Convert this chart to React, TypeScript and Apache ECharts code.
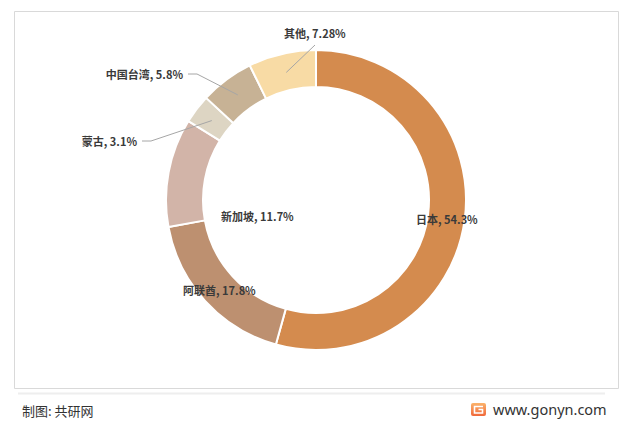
import React, { useEffect, useRef } from "react";
import * as echarts from "echarts";

const categories = ["日本", "阿联酋", "新加坡", "蒙古", "中国台湾", "其他"];
const values = [54.3, 17.8, 11.7, 3.1, 5.8, 7.28];

const sliceColors = ["#D48B4E", "#BD9070", "#D2B4A8", "#DDD5C3", "#C7B295", "#F8DBA5"];
// label anchor (x, y, align) per category; "outer" labels get a leader line
const labelPlace: { x: number; y: number; align: string; outer: boolean }[] = [
  { x: 416, y: 219, align: "left", outer: false },
  { x: 183, y: 290, align: "left", outer: false },
  { x: 221, y: 216, align: "left", outer: false },
  { x: 137, y: 141, align: "right", outer: true },
  { x: 183, y: 74, align: "right", outer: true },
  { x: 284, y: 33, align: "left", outer: true },
];

const labelFont = {
  fontFamily: "'Noto Sans CJK SC', 'Noto Sans', sans-serif",
  fontSize: 11,
  fontWeight: "bold" as const,
  color: "#3a3a3a",
};

export default function App() {
  const ref = useRef<HTMLDivElement>(null);
  useEffect(() => {
    document.body.style.margin = "0";
    if (!ref.current) return;
    const chart = echarts.init(ref.current, undefined, { renderer: "svg" });
    const data = categories.map((name, i) => ({ name, value: values[i] }));

    const inner = data.map((d, i) => ({
      ...d,
      itemStyle: { color: sliceColors[i] },
      label: { show: !labelPlace[i].outer },
    }));
    const outer = data.map((d, i) => ({
      ...d,
      label: { show: labelPlace[i].outer },
      labelLine: { show: labelPlace[i].outer },
    }));

    chart.setOption({
      animation: false,
      backgroundColor: "#fff",
      graphic: [
        {
          type: "rect",
          shape: { x: 14.5, y: 11.5, width: 604, height: 377 },
          style: { fill: "none", stroke: "#d9d9d9", lineWidth: 1 },
          silent: true,
        },
        {
          type: "line",
          shape: { x1: 18, y1: 393.5, x2: 605, y2: 393.5 },
          style: { stroke: "#eeeeee", lineWidth: 2 },
          silent: true,
        },
        {
          type: "text",
          x: 22,
          y: 410,
          style: {
            text: "制图: 共研网",
            fontFamily: "'Noto Sans CJK SC', sans-serif",
            fontSize: 13,
            fill: "#333",
            verticalAlign: "middle",
          },
        },
        {
          type: "rect",
          shape: { x: 471, y: 403, width: 15, height: 13, r: 2 },
          style: {
            fill: new echarts.graphic.LinearGradient(0, 0, 0, 1, [
              { offset: 0, color: "#fbb36b" },
              { offset: 1, color: "#f0683a" },
            ]),
          },
        },
        {
          type: "polyline",
          shape: {
            points: [
              [483, 406.5],
              [474.5, 406.5],
              [474.5, 413],
              [482.5, 413],
              [482.5, 409.5],
              [478.5, 409.5],
            ],
          },
          style: { stroke: "#fff", lineWidth: 1.6, fill: "none" },
        },
        {
          type: "text",
          x: 493,
          y: 409,
          style: {
            text: "www.gonyn.com",
            fontFamily: "'Noto Sans', 'Open Sans', sans-serif",
            fontSize: 14.5,
            fill: "#333",
            verticalAlign: "middle",
          },
        },
      ],
      series: [
        {
          type: "pie",
          center: [316, 200],
          radius: [113, 150],
          startAngle: 90,
          clockwise: true,
          silent: true,
          itemStyle: { borderColor: "#fff", borderWidth: 2 },
          label: { position: "inside", formatter: "{b}, {c}%", ...labelFont },
          labelLine: { show: false },
          labelLayout: (p: any) => {
            const lp = labelPlace[p.dataIndex];
            return { x: lp.x, y: lp.y, align: lp.align, verticalAlign: "middle" };
          },
          data: inner,
        },
        {
          type: "pie",
          center: [316, 200],
          radius: [0, 131],
          startAngle: 90,
          clockwise: true,
          silent: true,
          z: 3,
          itemStyle: { color: "rgba(0,0,0,0)", borderWidth: 0 },
          label: { position: "outside", formatter: "{b}, {c}%", ...labelFont },
          labelLine: { length: 10, length2: 10, lineStyle: { color: "#a6a6a6", width: 1 } },
          labelLayout: (p: any) => {
            const lp = labelPlace[p.dataIndex];
            const start = p.labelLinePoints ? p.labelLinePoints[0] : [lp.x, lp.y];
            let pts;
            if (lp.align === "left") {
              const end = [lp.x + 31, lp.y + 12];
              pts = [start, end, end];
            } else {
              pts = [start, [lp.x + 14, lp.y], [lp.x + 5, lp.y]];
            }
            return {
              x: lp.x,
              y: lp.y,
              align: lp.align,
              verticalAlign: "middle",
              labelLinePoints: pts,
            };
          },
          data: outer,
        },
      ],
    });
    return () => chart.dispose();
  }, []);
  return <div ref={ref} style={{ position: "fixed", left: 0, top: 0, width: 630, height: 423 }} />;
}
